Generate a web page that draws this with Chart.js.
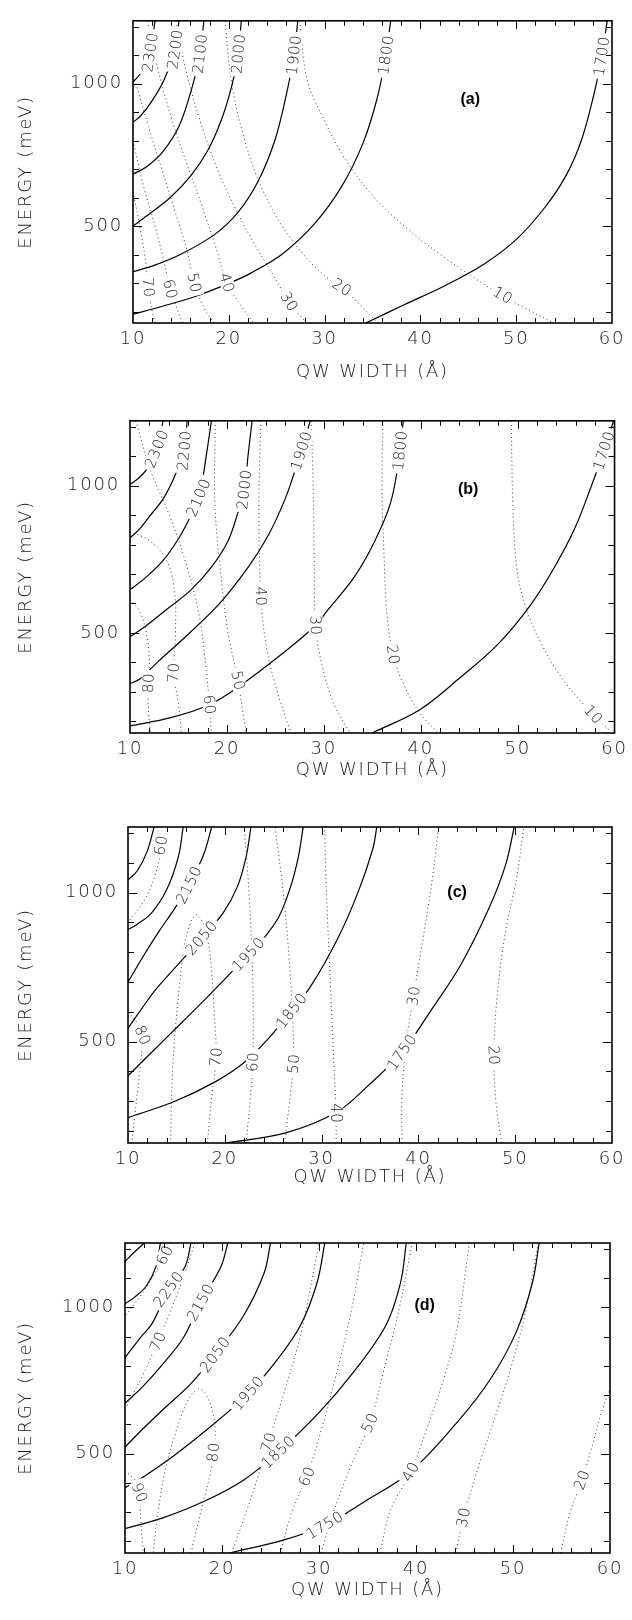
<!DOCTYPE html>
<html>
<head>
<meta charset="utf-8">
<script src="https://cdn.jsdelivr.net/npm/chart.js@4.4.0/dist/chart.umd.min.js"></script>
<style>
  body { margin: 0; background: #fff; }
  #wrap { position: relative; width: 632px; height: 1620px; }
  #wrap canvas { position: absolute; left: 0; }
</style>
</head>
<body>
<div id="wrap">
  <canvas id="panelA" width="632" height="400" style="top:0px"></canvas>
  <canvas id="panelB" width="632" height="400" style="top:400px"></canvas>
  <canvas id="panelC" width="632" height="410" style="top:800px"></canvas>
  <canvas id="panelD" width="632" height="405" style="top:1215px"></canvas>
</div>
<script>
// axis ticks
const widthTicks = [10, 20, 30, 40, 50, 60];
const energyTicks = [500, 1000];

// panel (a): solid = energy contours, dotted = second quantity; points are [QW width, energy]
const aSolidLevels = ['2300', '2200', '2100', '2000', '1900', '1800', '1700'];
const aSolidLabelAt = [1110, 1120, 1105, 1105, 1100, 1100, 1096];
const aSolid = [
  [[12.3, 1220], [11.8, 1110], [11.0, 1045], [10, 1005]],
  [[14.8, 1220], [14.4, 1120], [13.2, 1010], [11.9, 935], [10.8, 887], [10, 864]],
  [[17.4, 1220], [17.0, 1105], [16.2, 990], [14.8, 850], [13.1, 760], [11.5, 710], [10, 682]],
  [[21.3, 1220], [21.0, 1105], [20.3, 990], [19.2, 870], [17.8, 765], [16.0, 675], [13.9, 600], [11.8, 545], [10, 500]],
  [[27.2, 1220], [26.8, 1100], [26.0, 960], [24.8, 800], [23.1, 660], [21.0, 550], [18.5, 470], [15.1, 403], [12.2, 362], [10, 340]],
  [[36.9, 1220], [36.4, 1100], [35.5, 950], [34.0, 790], [31.8, 640], [29.0, 510], [25.7, 405], [22.3, 335], [20.0, 299], [16.4, 252], [13.0, 218], [10, 191]],
  [[59.5, 1220], [58.9, 1090], [58.1, 960], [56.8, 800], [55.2, 677], [53.0, 566], [50.1, 456], [46.7, 368], [42.5, 290], [38.3, 224], [34.3, 160]]
];
const aDottedLevels = ['70', '60', '50', '40', '30', '20', '10'];
const aDottedLabelAt = [285, 279, 301, 301, 235, 285, 257];
const aDotted = [
  [[10, 620], [10.7, 500], [11.3, 380], [11.6, 285], [12.0, 200], [12.3, 160]],
  [[10, 800], [11.1, 640], [12.3, 500], [13.2, 380], [13.9, 279], [14.7, 200], [15.2, 160]],
  [[10.3, 1000], [11.6, 850], [13.0, 700], [14.4, 550], [15.6, 420], [16.4, 301], [17.6, 200], [18.5, 160]],
  [[11.5, 1220], [12.6, 1050], [14.0, 880], [15.6, 720], [17.2, 570], [18.6, 430], [19.8, 301], [21.5, 210], [22.6, 160]],
  [[14.5, 1220], [15.5, 1050], [17.0, 870], [18.8, 700], [20.7, 560], [22.8, 430], [24.6, 330], [26.3, 235], [28.1, 160]],
  [[19.6, 1220], [20.3, 1000], [21.5, 820], [23.1, 660], [25.2, 520], [27.8, 400], [30.2, 320], [31.8, 285], [34.0, 213], [35.6, 160]],
  [[27.4, 1220], [28.2, 1010], [29.9, 876], [32.0, 743], [34.9, 611], [38.3, 500], [42.5, 390], [47.4, 280], [50.9, 213], [53.9, 160]]
];

// panel (b)
const bSolidLevels = ['2300', '2200', '2100', '2000', '1900', '1800', '1700'];
const bSolidLabelAt = [1125, 1119, 959, 987, 1119, 1119, 1119];
const bSolid = [
  [[13.4, 1220], [12.95, 1141], [12.1, 1072], [11.05, 1030], [10, 1003]],
  [[15.9, 1220], [15.6, 1119], [14.6, 1031], [13.4, 954], [12.1, 899], [11.05, 855], [10, 822]],
  [[18.4, 1220], [18.0, 1130], [17.15, 965], [16.3, 899], [15.05, 822], [13.4, 745], [11.7, 690], [10, 646]],
  [[22.6, 1220], [22.2, 1108], [21.8, 987], [21.15, 910], [20.1, 811], [18.4, 723], [16.3, 646], [13.8, 580], [11.7, 525], [10, 487]],
  [[28.6, 1220], [27.9, 1141], [27.05, 1053], [26.0, 954], [24.3, 833], [22.2, 723], [19.3, 602], [15.9, 492], [12.95, 404], [11.05, 344], [10, 327]],
  [[38.2, 1220], [37.8, 1100], [36.9, 943], [35.25, 811], [33.15, 690], [30.2, 569], [29.15, 525], [26.0, 437], [21.15, 316], [18.2, 256], [14.2, 212], [10, 184]],
  [[59.9, 1220], [58.8, 1108], [57.6, 998], [55.9, 855], [53.8, 723], [51.25, 591], [47.9, 459], [44.1, 349], [39.9, 239], [35.0, 160]]
];
const bDottedLevels = ['80', '70', '60', '50', '40', '30', '20', '10'];
const bDottedLabelAt = [330, 365, 256, 338, 624, 525, 426, 223];
const bDotted = [
  [[10, 613], [11.05, 569], [11.8, 481], [12.0, 393], [11.9, 330], [11.9, 239], [12.1, 160]],
  [[10, 844], [12.1, 811], [13.8, 745], [14.6, 640], [14.7, 503], [14.5, 365], [15.0, 261], [15.3, 160]],
  [[10.6, 1220], [12.1, 1053], [14.2, 888], [15.9, 723], [17.15, 558], [17.8, 393], [18.2, 256], [18.4, 160]],
  [[18.8, 1220], [18.75, 943], [19.3, 723], [20.1, 503], [21.15, 338], [21.6, 239], [22.0, 160]],
  [[23.5, 1220], [23.3, 943], [23.5, 624], [24.1, 448], [25.15, 305], [26.6, 160]],
  [[28.7, 1220], [28.9, 998], [29.0, 778], [29.15, 525], [29.8, 393], [31.0, 261], [32.7, 160]],
  [[36.1, 1220], [36.0, 998], [36.2, 778], [36.5, 569], [37.15, 426], [38.2, 327], [39.9, 228], [41.8, 160]],
  [[49.35, 1220], [49.5, 943], [49.9, 723], [50.8, 591], [52.5, 459], [55.0, 327], [57.8, 223], [59.5, 168]]
];

// panel (c)
const cSolidLevels = ['', '', '2150', '2050', '1950', '1850', '1750'];
const cSolidLabelAt = [0, 0, 1026, 848, 793, 604, 465];
const cSolid = [
  [[12.7, 1220], [12.0, 1140], [11.0, 1075], [10, 1042]],
  [[15.7, 1220], [15.2, 1120], [14.0, 1010], [12.4, 930], [11.0, 895], [10, 876]],
  [[18.65, 1220], [17.8, 1126], [16.3, 1026], [14.85, 948], [13.2, 870], [11.7, 793], [10, 700]],
  [[22.7, 1220], [22.2, 1120], [21.3, 1020], [19.8, 930], [17.6, 848], [15.2, 760], [13.0, 680], [11.4, 610], [10, 545]],
  [[28.1, 1220], [27.6, 1120], [26.8, 1020], [25.6, 920], [24.1, 850], [22.45, 793], [20.3, 720], [17.6, 630], [14.5, 530], [12.0, 450], [10, 385]],
  [[35.7, 1220], [35.3, 1148], [33.8, 1004], [31.7, 848], [28.8, 682], [26.9, 604], [24.5, 510], [22.0, 430], [19.0, 365], [14.85, 300], [10, 245]],
  [[49.9, 1220], [49.0, 1092], [47.3, 948], [44.4, 759], [41.2, 600], [38.3, 465], [34.7, 349], [31.5, 262], [26.2, 193], [20.1, 160]]
];
const cDottedLevels = ['60', '80', '70', '60', '50', '40', '30', '20'];
const cDottedLabelAt = [1159, 521, 449, 432, 426, 260, 654, 454];
const cDotted = [
  [[13.0, 1220], [13.4, 1160], [13.0, 1080], [11.8, 980], [10, 900]],
  [[10, 600], [11.0, 560], [11.5, 521], [11.2, 400], [10.8, 280], [10.4, 160]],
  [[18.2, 160], [18.6, 300], [19.1, 449], [18.9, 600], [18.6, 750], [18.0, 880], [17.0, 925], [16.0, 850], [15.2, 650], [14.6, 400], [14.4, 160]],
  [[22.2, 160], [22.7, 330], [22.9, 432], [22.9, 700], [22.5, 1000], [22.0, 1220]],
  [[26.2, 160], [26.8, 330], [27.1, 426], [26.9, 650], [26.2, 950], [25.2, 1220]],
  [[31.5, 160], [31.5, 260], [31.3, 400], [30.9, 700], [30.5, 1000], [30.3, 1220]],
  [[38.3, 160], [38.3, 315], [38.7, 482], [39.5, 654], [40.6, 870], [41.4, 1037], [42.1, 1220]],
  [[48.6, 160], [48.0, 300], [47.8, 454], [48.1, 640], [49.0, 870], [50.1, 1040], [50.9, 1220]]
];

// panel (d)
const dSolidLevels = ['', '', '2250', '2150', '2050', '1950', '1850', '1750'];
const dSolidLabelAt = [0, 0, 1062, 1017, 839, 706, 505, 255];
const dSolid = [
  [[12.0, 1220], [11.0, 1190], [10, 1157]],
  [[13.65, 1220], [13.2, 1140], [12.2, 1073], [11.0, 1035], [10, 1012]],
  [[16.8, 1220], [16.2, 1140], [14.5, 1062], [12.8, 945], [11.55, 895], [10, 828]],
  [[20.6, 1220], [19.9, 1140], [17.8, 1017], [16.0, 895], [13.9, 806], [11.8, 728], [10, 672]],
  [[25.0, 1220], [24.35, 1118], [22.25, 973], [19.3, 839], [16.8, 739], [13.9, 650], [11.8, 583], [10, 522]],
  [[30.6, 1220], [29.8, 1084], [28.1, 939], [25.6, 817], [22.7, 706], [18.9, 594], [15.1, 494], [12.2, 427], [10, 383]],
  [[39.0, 1220], [38.4, 1084], [36.9, 939], [33.6, 780], [30.0, 640], [25.8, 505], [22.25, 410], [18.05, 335], [13.9, 280], [10, 243]],
  [[52.7, 1220], [52.0, 1084], [50.35, 917], [47.8, 761], [44.5, 617], [39.45, 438], [34.8, 338], [30.6, 255], [26.4, 205], [20.8, 160]]
];
const dDottedLevels = ['60', '70', '90', '80', '70', '60', '50', '40', '30', '20'];
const dDottedLabelAt = [1179, 884, 366, 505, 539, 422, 605, 438, 282, 410];
const dDotted = [
  [[14.7, 1220], [14.1, 1179], [12.8, 1100], [11.4, 1030], [10, 970]],
  [[17.2, 1220], [16.0, 1100], [14.6, 980], [13.4, 884], [12.0, 780], [10, 650]],
  [[10, 440], [11.0, 410], [11.5, 366], [11.6, 280], [11.9, 160]],
  [[16.8, 160], [17.8, 300], [18.9, 450], [19.3, 560], [18.9, 660], [17.8, 720], [16.8, 700], [15.5, 600], [14.2, 450], [13.4, 300], [12.9, 160]],
  [[21.0, 160], [22.5, 300], [23.8, 430], [24.8, 539], [26.5, 720], [28.2, 920], [30.0, 1220]],
  [[26.0, 160], [27.2, 300], [28.75, 422], [30.4, 600], [32.0, 800], [33.4, 1000], [34.6, 1220]],
  [[30.2, 160], [31.5, 300], [33.2, 450], [35.25, 605], [36.8, 800], [38.3, 1000], [39.6, 1220]],
  [[36.3, 160], [37.35, 305], [39.45, 438], [41.1, 583], [42.8, 750], [44.2, 920], [45.5, 1220]],
  [[44.1, 160], [44.9, 282], [46.6, 472], [48.3, 639], [49.9, 806], [51.4, 1000], [52.6, 1220]],
  [[54.9, 160], [55.9, 300], [57.1, 410], [58.2, 530], [59.2, 649], [60, 720]]
];

const axisFont = { family: '"DejaVu Sans", sans-serif', size: 18, weight: '200' };
const textColor = '#1a1a1a';

// inward ticks on all four sides plus the frame
const framePlugin = {
  id: 'frame',
  afterDatasetsDraw(chart) {
    const { ctx, chartArea: ca, scales: { x, y } } = chart;
    ctx.save();
    ctx.strokeStyle = '#000';
    ctx.lineWidth = 1;
    ctx.beginPath();
    for (let v = 12; v < 60; v += 2) {
      const len = v % 10 === 0 ? 8 : 5;
      const px = Math.round(x.getPixelForValue(v)) + 0.5;
      ctx.moveTo(px, ca.bottom); ctx.lineTo(px, ca.bottom - len);
      ctx.moveTo(px, ca.top); ctx.lineTo(px, ca.top + len);
    }
    for (let v = 200; v <= 1200; v += 100) {
      const len = v % 500 === 0 ? 9 : 6;
      const py = Math.round(y.getPixelForValue(v)) + 0.5;
      ctx.moveTo(ca.left, py); ctx.lineTo(ca.left + len, py);
      ctx.moveTo(ca.right, py); ctx.lineTo(ca.right - len, py);
    }
    ctx.stroke();
    ctx.lineWidth = 1.6;
    ctx.strokeRect(ca.left, ca.top, ca.right - ca.left, ca.bottom - ca.top);
    ctx.restore();
  }
};

// contour values written along the curves, with a gap cut in the line
const contourLabels = {
  id: 'contourLabels',
  afterDatasetsDraw(chart) {
    const { ctx, chartArea: ca, scales: { x, y } } = chart;
    ctx.save();
    ctx.beginPath();
    ctx.rect(ca.left, ca.top, ca.right - ca.left, ca.bottom - ca.top);
    ctx.clip();
    ctx.font = '200 15px "DejaVu Sans", sans-serif';
    ctx.letterSpacing = '0.5px';
    ctx.textAlign = 'center';
    ctx.textBaseline = 'middle';
    chart.data.datasets.forEach(ds => {
      if (!ds.level) return;
      const pts = ds.data;
      for (let i = 0; i < pts.length - 1; i++) {
        const a = pts[i], b = pts[i + 1];
        if ((a.y - ds.labelAt) * (b.y - ds.labelAt) > 0 || a.y === b.y) continue;
        const t = (ds.labelAt - a.y) / (b.y - a.y);
        const px = x.getPixelForValue(a.x + t * (b.x - a.x));
        const py = y.getPixelForValue(ds.labelAt);
        let ang = Math.atan2(y.getPixelForValue(b.y) - y.getPixelForValue(a.y),
                             x.getPixelForValue(b.x) - x.getPixelForValue(a.x));
        if (ang > Math.PI / 2) ang -= Math.PI;
        if (ang <= -Math.PI / 2) ang += Math.PI;
        const w = ctx.measureText(ds.level).width + 6;
        ctx.save();
        ctx.translate(px, py);
        ctx.rotate(ang);
        ctx.fillStyle = '#fff';
        ctx.fillRect(-w / 2, -7, w, 14);
        ctx.fillStyle = textColor;
        ctx.fillText(ds.level, 0, 1);
        ctx.restore();
        break;
      }
    });
    ctx.restore();
  }
};

const panelTag = {
  id: 'panelTag',
  afterDraw(chart) {
    const { ctx, scales: { x, y } } = chart;
    const tag = chart.options.plugins.panelTag;
    ctx.save();
    ctx.letterSpacing = '0px';
    ctx.font = 'bold 16px "Liberation Sans", Arial, sans-serif';
    ctx.fillStyle = '#000';
    ctx.textAlign = 'center';
    ctx.textBaseline = 'middle';
    ctx.fillText(tag.text, x.getPixelForValue(tag.x), y.getPixelForValue(tag.y));
    ctx.restore();
  }
};

const spacing = {
  id: 'spacing',
  beforeDraw(chart) { chart.ctx.letterSpacing = '1.8px'; }
};

function makeSets(curves, levels, labelAt, dotted) {
  return curves.map((pts, i) => ({
    data: pts.map(p => ({ x: p[0], y: p[1] })),
    level: levels[i],
    labelAt: labelAt[i],
    showLine: true,
    pointRadius: 0,
    pointHoverRadius: 0,
    tension: 0.35,
    borderColor: dotted ? '#3a3a3a' : '#000',
    borderWidth: dotted ? 1 : 1.2,
    borderDash: dotted ? [1, 3] : []
  }));
}

function makePanel(id, area, sets, tag) {
  const canvas = document.getElementById(id);
  const H = canvas.height;
  new Chart(canvas, {
    type: 'scatter',
    data: { datasets: sets },
    options: {
      responsive: false,
      animation: false,
      events: [],
      layout: { padding: { left: 0, top: area.top, right: 632 - area.right, bottom: 0 } },
      plugins: { legend: { display: false }, tooltip: { enabled: false }, panelTag: tag },
      scales: {
        x: {
          type: 'linear', min: 10, max: 60,
          afterBuildTicks: s => { s.ticks = widthTicks.map(v => ({ value: v })); },
          afterFit: s => { s.height = H - area.bottom; },
          grid: { display: false, drawTicks: false },
          border: { display: false },
          ticks: { font: axisFont, color: textColor, padding: 6, maxRotation: 0, autoSkip: false,
                   callback: v => String(v) },
          title: { display: true, text: 'QW WIDTH (Å)', color: textColor, font: axisFont,
                   padding: { top: 0, bottom: H - area.title - 10.8 } }
        },
        y: {
          type: 'linear', min: 160, max: 1220,
          afterBuildTicks: s => { s.ticks = energyTicks.map(v => ({ value: v })); },
          afterFit: s => { s.width = area.left; },
          grid: { display: false, drawTicks: false },
          border: { display: false },
          ticks: { font: axisFont, color: textColor, padding: 10, callback: v => String(v) },
          title: { display: true, text: 'ENERGY (meV)', color: textColor, font: axisFont,
                   padding: { top: 16, bottom: 0 } }
        }
      }
    },
    plugins: [spacing, contourLabels, framePlugin, panelTag]
  });
}

makePanel('panelA', { left: 133, right: 612, top: 2, bottom: 323, title: 372 },
  makeSets(aDotted, aDottedLevels, aDottedLabelAt, true).concat(makeSets(aSolid, aSolidLevels, aSolidLabelAt, false)),
  { text: '(a)', x: 45.2, y: 945 });
makePanel('panelB', { left: 130, right: 615, top: 18, bottom: 333, title: 370 },
  makeSets(bDotted, bDottedLevels, bDottedLabelAt, true).concat(makeSets(bSolid, bSolidLevels, bSolidLabelAt, false)),
  { text: '(b)', x: 44.9, y: 985 });
makePanel('panelC', { left: 128, right: 612, top: 27, bottom: 343, title: 377 },
  makeSets(cDotted, cDottedLevels, cDottedLabelAt, true).concat(makeSets(cSolid, cSolidLevels, cSolidLabelAt, false)),
  { text: '(c)', x: 44.0, y: 1000 });
makePanel('panelD', { left: 125, right: 610, top: 28, bottom: 338, title: 375 },
  makeSets(dDotted, dDottedLevels, dDottedLabelAt, true).concat(makeSets(dSolid, dSolidLevels, dSolidLabelAt, false)),
  { text: '(d)', x: 40.9, y: 1005 });
</script>
</body>
</html>
